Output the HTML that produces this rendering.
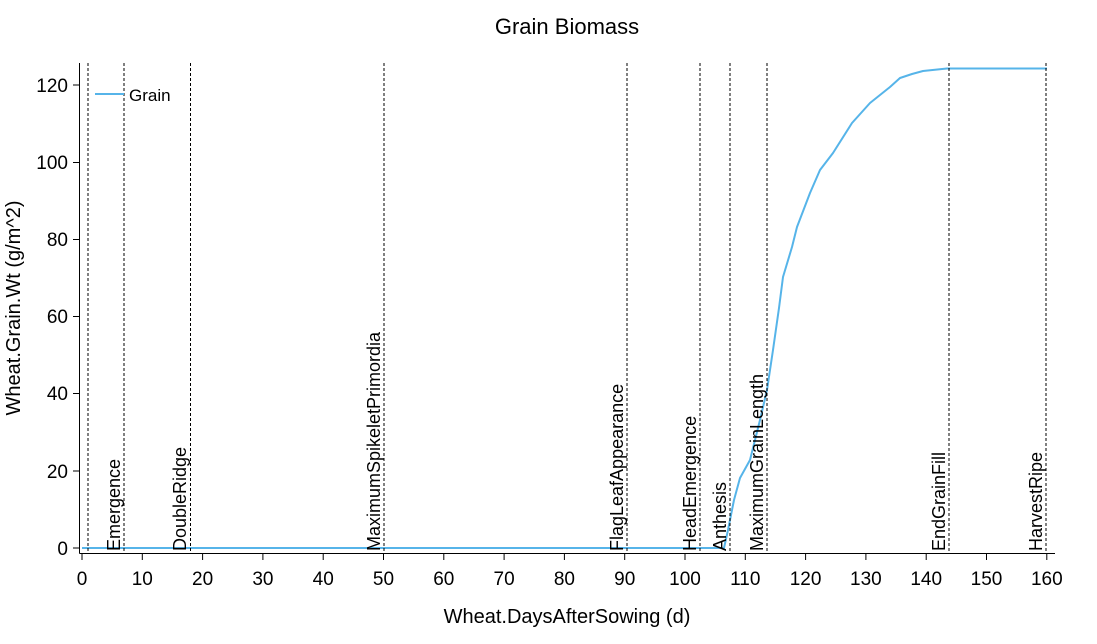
<!DOCTYPE html>
<html><head><meta charset="utf-8"><style>
body{margin:0;background:#fff}
svg text{font-family:"Liberation Sans","DejaVu Sans",sans-serif;fill:#000}
</style></head><body>
<svg width="1097" height="639" viewBox="0 0 1097 639" xmlns="http://www.w3.org/2000/svg">
<text x="567" y="34" font-size="22" text-anchor="middle">Grain Biomass</text>
<g stroke="#000" stroke-width="1" fill="none">
<line x1="79.5" y1="63" x2="79.5" y2="553.5"/>
<line x1="79.5" y1="553.5" x2="1055" y2="553.5"/>
</g>
<g stroke="#000" stroke-width="1">
<line x1="73" y1="548" x2="79" y2="548"/><line x1="73" y1="471" x2="79" y2="471"/>
<line x1="73" y1="393.5" x2="79" y2="393.5"/><line x1="73" y1="316.5" x2="79" y2="316.5"/>
<line x1="73" y1="239.5" x2="79" y2="239.5"/><line x1="73" y1="162.5" x2="79" y2="162.5"/>
<line x1="73" y1="85" x2="79" y2="85"/>
<line x1="82" y1="554" x2="82" y2="560"/><line x1="142.3" y1="554" x2="142.3" y2="560"/>
<line x1="202.6" y1="554" x2="202.6" y2="560"/><line x1="262.9" y1="554" x2="262.9" y2="560"/>
<line x1="323.2" y1="554" x2="323.2" y2="560"/><line x1="383.5" y1="554" x2="383.5" y2="560"/>
<line x1="443.8" y1="554" x2="443.8" y2="560"/><line x1="504.1" y1="554" x2="504.1" y2="560"/>
<line x1="564.4" y1="554" x2="564.4" y2="560"/><line x1="624.7" y1="554" x2="624.7" y2="560"/>
<line x1="685" y1="554" x2="685" y2="560"/><line x1="745.3" y1="554" x2="745.3" y2="560"/>
<line x1="805.6" y1="554" x2="805.6" y2="560"/><line x1="865.9" y1="554" x2="865.9" y2="560"/>
<line x1="926.2" y1="554" x2="926.2" y2="560"/><line x1="986.5" y1="554" x2="986.5" y2="560"/>
<line x1="1046.8" y1="554" x2="1046.8" y2="560"/>
</g>
<g font-size="19" text-anchor="end">
<text x="68" y="555">0</text><text x="68" y="478">20</text><text x="68" y="400">40</text>
<text x="68" y="323">60</text><text x="68" y="246">80</text><text x="68" y="169">100</text><text x="68" y="92">120</text>
</g>
<g font-size="19" text-anchor="middle">
<text x="82" y="585">0</text><text x="142.3" y="585">10</text><text x="202.6" y="585">20</text>
<text x="262.9" y="585">30</text><text x="323.2" y="585">40</text><text x="383.5" y="585">50</text>
<text x="443.8" y="585">60</text><text x="504.1" y="585">70</text><text x="564.4" y="585">80</text>
<text x="624.7" y="585">90</text><text x="685" y="585">100</text><text x="745.3" y="585">110</text>
<text x="805.6" y="585">120</text><text x="865.9" y="585">130</text><text x="926.2" y="585">140</text>
<text x="986.5" y="585">150</text><text x="1046.8" y="585">160</text>
</g>
<text x="567" y="623" font-size="20" text-anchor="middle">Wheat.DaysAfterSowing (d)</text>
<text transform="translate(20,308) rotate(-90)" font-size="20" text-anchor="middle">Wheat.Grain.Wt (g/m^2)</text>
<polyline fill="none" stroke="#56b4e9" stroke-width="2" stroke-linejoin="round" points="82,548 724,548 728,530 734,500 740,478 750,460 760,420 767,390 773,350 779,308 783,277 792,247 797,227 810,193 820,170 833,153 852,123 870,103 890,87 900,78 912,74 923,71 947,68.5 1047,68.5"/>
<g stroke="#000" stroke-width="1" stroke-dasharray="3,2">
<line x1="88" y1="63" x2="88" y2="553"/><line x1="124" y1="63" x2="124" y2="553"/>
<line x1="190.5" y1="63" x2="190.5" y2="553"/><line x1="384" y1="63" x2="384" y2="553"/>
<line x1="627" y1="63" x2="627" y2="553"/><line x1="700" y1="63" x2="700" y2="553"/>
<line x1="730" y1="63" x2="730" y2="553"/><line x1="767" y1="63" x2="767" y2="553"/>
<line x1="949" y1="63" x2="949" y2="553"/><line x1="1046" y1="63" x2="1046" y2="553"/>
</g>
<g font-size="18">
<text transform="translate(120,551) rotate(-90)">Emergence</text>
<text transform="translate(186,551) rotate(-90)">DoubleRidge</text>
<text transform="translate(380,551) rotate(-90)">MaximumSpikeletPrimordia</text>
<text transform="translate(623,551) rotate(-90)">FlagLeafAppearance</text>
<text transform="translate(696,551) rotate(-90)">HeadEmergence</text>
<text transform="translate(726,551) rotate(-90)">Anthesis</text>
<text transform="translate(763,551) rotate(-90)">MaximumGrainLength</text>
<text transform="translate(945,551) rotate(-90)">EndGrainFill</text>
<text transform="translate(1042,551) rotate(-90)">HarvestRipe</text>
</g>
<line x1="95" y1="94" x2="124" y2="94" stroke="#56b4e9" stroke-width="2"/>
<text x="129" y="101" font-size="17">Grain</text>
</svg>
</body></html>
